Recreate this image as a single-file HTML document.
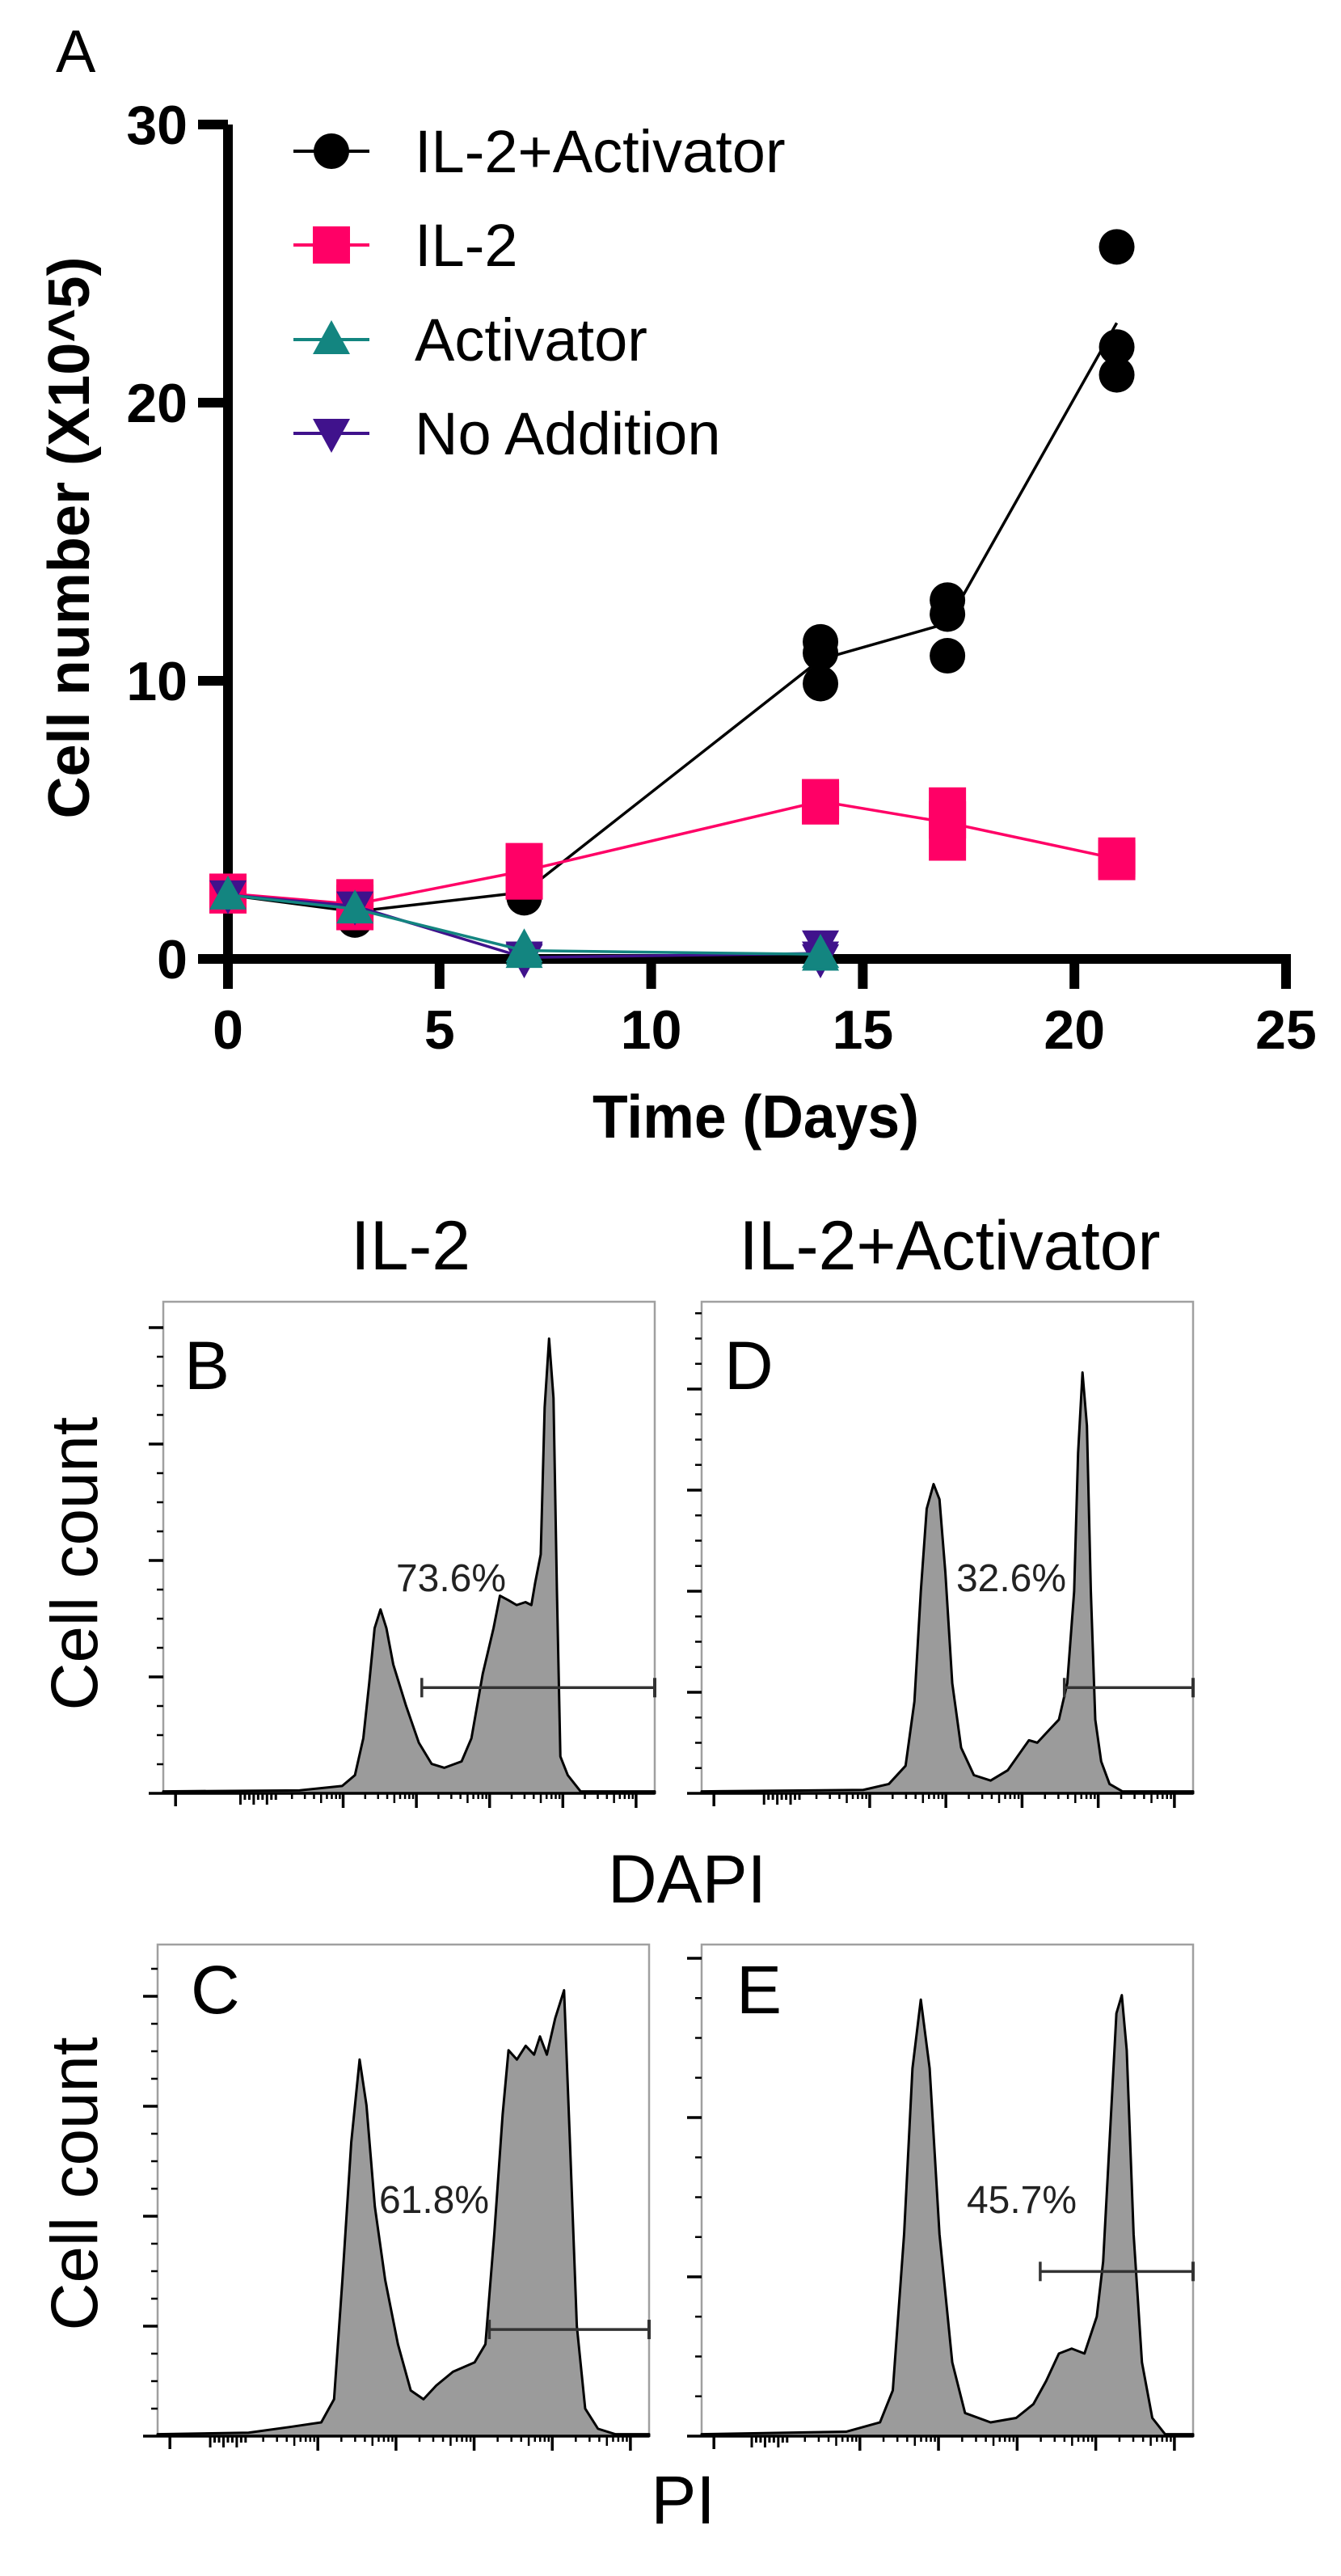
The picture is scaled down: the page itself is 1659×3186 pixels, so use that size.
<!DOCTYPE html>
<html><head><meta charset="utf-8"><title>Cell growth and flow cytometry</title>
<style>
html,body{margin:0;padding:0;background:#fff;}
svg{display:block;font-family:"Liberation Sans",Arial,sans-serif;}
</style></head>
<body>
<svg id="fig" width="1659" height="3186" viewBox="0 0 1659 3186" xmlns="http://www.w3.org/2000/svg">
<rect x="0" y="0" width="1659" height="3186" fill="#fff"/>
</svg>
<script>
// ---------- Panel A data ----------
const daysAll = [0, 3, 7, 14, 17, 21];
const daysShort = [0, 3, 7, 14];
const il2ActReps = [[2.3,2.3,2.3],[1.4,1.8,1.9],[2.2,2.4,2.6],[9.9,11.0,11.4],[10.9,12.4,12.9],[21.0,22.0,25.6]];
const il2Reps = [[2.3,2.35,2.4],[1.7,2.0,2.2],[2.8,3.2,3.5],[5.5,5.7,5.8],[4.2,5.0,5.5],[3.5,3.6,3.7]];
const activatorReps = [[2.3],[1.8],[0.2,0.3,0.4],[0.1,0.2,0.2]];
const noAddReps = [[2.3],[1.9],[0.0,0.05,0.1],[0.0,0.1,0.5]];
const xTickVals = [0, 5, 10, 15, 20, 25];
const yTickVals = [0, 10, 20, 30];
const legendLabels = ["IL-2+Activator", "IL-2", "Activator", "No Addition"];

// ---------- Flow histogram data (x: % of channel range, y: % of max count) ----------
const histBx = [0,27.7,36.4,39.0,40.7,41.9,43.0,44.2,45.4,46.8,49.4,52.0,54.6,57.2,60.7,62.7,65.0,67.2,68.5,70.2,71.9,73.7,74.9,75.7,76.8,77.6,78.5,79.4,80.1,80.8,82.3,84.9,100];
const histBy = [0.4,0.6,1.5,3.7,11.2,22.4,33.6,37.4,33.6,26.2,17.8,10.3,6.0,5.2,6.5,11.2,24.3,33.6,40.2,39.3,38.3,38.9,38.3,43.0,48.6,78.5,92.5,80.4,41.1,7.5,3.7,0.4,0.4];
const histDx = [0,32.9,38.1,41.5,43.3,44.6,45.8,47.2,48.4,49.6,51.0,52.8,55.4,58.8,62.3,64.9,66.6,68.3,70.9,72.7,74.4,75.8,76.6,77.5,78.4,79.2,80.1,81.3,83.0,85.6,100];
const histDy = [0.4,0.7,1.9,5.6,18.7,41.1,57.9,62.9,59.8,44.9,22.4,9.3,3.7,2.6,4.7,8.4,10.8,10.3,13.1,15.0,22.4,41.1,69.2,85.6,74.8,41.1,15.0,6.5,1.9,0.4,0.4];
const histCx = [0,18.5,27.2,33.3,35.9,37.6,39.4,41.1,42.5,44.2,46.3,48.9,51.5,54.1,56.7,60.1,64.5,66.7,68.5,70.2,71.4,73.1,74.9,76.6,77.8,79.2,80.9,82.7,83.9,85.3,87.0,89.6,93.1,100];
const histCy = [0.4,0.7,1.9,2.8,7.5,31.8,59.8,76.6,67.3,46.7,31.8,18.7,9.3,7.5,10.3,13.1,15.0,18.7,41.1,65.4,78.5,76.6,79.4,77.6,81.3,77.6,85.0,90.7,59.8,22.4,5.6,1.5,0.4,0.4];
const histEx = [0,29.4,36.3,38.9,41.2,42.9,44.6,46.4,48.4,51.0,53.6,58.8,64.0,67.5,70.1,72.7,75.3,77.9,80.4,81.7,83.0,84.4,85.5,86.5,87.9,89.6,91.7,94.3,100];
const histEy = [0.4,0.9,2.8,9.3,41.1,74.8,88.8,74.8,41.1,15.0,4.7,2.8,3.7,6.5,11.2,16.8,17.8,16.8,24.3,35.5,59.8,86.0,89.7,78.5,41.1,15.0,3.7,0.4,0.4];
const gateStart = [52.6, 73.8, 67.5, 68.9];
const gateLevel = [21.5, 21.5, 21.7, 33.5];
const pctLabels = ["73.6%", "32.6%", "61.8%", "45.7%"];

const NS = "http://www.w3.org/2000/svg";
const svg = document.getElementById('fig');
function mk(tag, attrs, parent) {
  const e = document.createElementNS(NS, tag);
  for (const k in attrs) e.setAttribute(k, attrs[k]);
  (parent || svg).appendChild(e);
  return e;
}
function mean(a){return a.reduce((s,v)=>s+v,0)/a.length;}

// ---------- Panel A ----------
const X0 = 282, X1 = 1591, Y0 = 1186, Y1 = 154;
const xA = d => X0 + d * (X1 - X0) / 25;
const yA = v => Y0 - v * (Y0 - Y1) / 30;

const gA = mk('g', {});



let t = mk('text', {x: 69, y: 89, 'font-size': 74, fill: '#000'}, gA);
t.textContent = 'A';



let ax = mk('line', {x1: X0, y1: Y1, x2: X0, y2: Y0 + 6, stroke: '#000', 'stroke-width': 12}, gA);


ax = mk('line', {x1: X0 - 6, y1: Y0, x2: X1 + 6, y2: Y0, stroke: '#000', 'stroke-width': 12}, gA);



yTickVals.forEach(v => {
  const tk = mk('line', {x1: 245, y1: yA(v), x2: X0, y2: yA(v), stroke: '#000', 'stroke-width': 12}, gA);
  
  
  const lb = mk('text', {x: 232, y: yA(v) + 24, 'font-size': 68, 'font-weight': 'bold', 'text-anchor': 'end'}, gA);
  lb.textContent = v;
  
  
});
xTickVals.forEach(v => {
  const tk = mk('line', {x1: xA(v), y1: Y0, x2: xA(v), y2: 1223, stroke: '#000', 'stroke-width': 12}, gA);
  
  
  const lb = mk('text', {x: xA(v), y: 1297, 'font-size': 68, 'font-weight': 'bold', 'text-anchor': 'middle'}, gA);
  lb.textContent = v;
  
  
});
t = mk('text', {x: 935, y: 1407, 'font-size': 75, 'font-weight': 'bold', 'text-anchor': 'middle', textLength: 404, lengthAdjust: 'spacingAndGlyphs'}, gA);
t.textContent = 'Time (Days)';


t = mk('text', {x: 0, y: 0, 'font-size': 72, 'font-weight': 'bold', 'text-anchor': 'middle', textLength: 695, lengthAdjust: 'spacingAndGlyphs', transform: 'translate(110,665) rotate(-90)'}, gA);
t.textContent = 'Cell number (X10^5)';



function marker(shape, cx, cy, color, parent) {
  let m;
  if (shape === 'circle') m = mk('circle', {cx: cx, cy: cy, r: 22, fill: color}, parent);
  else if (shape === 'square') m = mk('rect', {x: cx - 23, y: cy - 23, width: 46, height: 46, fill: color}, parent);
  else if (shape === 'up') m = mk('polygon', {points: `${cx},${cy-24} ${cx+23},${cy+18} ${cx-23},${cy+18}`, fill: color}, parent);
  else m = mk('polygon', {points: `${cx},${cy+24} ${cx+23},${cy-18} ${cx-23},${cy-18}`, fill: color}, parent);
  return m;
}

const seriesList = [
  {name: 'il2-activator', days: daysAll, reps: il2ActReps, color: '#000000', shape: 'circle'},
  {name: 'il2', days: daysAll, reps: il2Reps, color: '#ff0066', shape: 'square'},
  {name: 'no-addition', days: daysShort, reps: noAddReps, color: '#40128c', shape: 'down'},
  {name: 'activator', days: daysShort, reps: activatorReps, color: '#138580', shape: 'up'}
];
seriesList.forEach(s => {
  const g = mk('g', {}, gA);
  
  
  const pts = s.days.map((d, i) => xA(d) + ',' + yA(mean(s.reps[i]))).join(' ');
  const ln = mk('polyline', {points: pts, fill: 'none', stroke: s.color, 'stroke-width': 3.5}, g);
  
  
  s.days.forEach((d, i) => {
    s.reps[i].forEach(v => {
      const m = marker(s.shape, xA(d), yA(v), s.color, g);
      
      
    });
  });
});

const legColors = ['#000000', '#ff0066', '#138580', '#40128c'];
const legShapes = ['circle', 'square', 'up', 'down'];
const legY = [187, 303, 420, 536];
const legW = [447, 130, 295, 392];
legendLabels.forEach((lab, i) => {
  const g = mk('g', {}, gA);
  
  
  mk('line', {x1: 363, y1: legY[i], x2: 457, y2: legY[i], stroke: legColors[i], 'stroke-width': 4}, g);
  marker(legShapes[i], 410, legY[i], legColors[i], g);
  const tx = mk('text', {x: 513, y: legY[i] + 26, 'font-size': 74, fill: '#000'}, g);
  tx.textContent = lab;
  
  
});

// ---------- Flow panels ----------
const panels = [
  {id: 'b', letter: 'B', x: 202, y: 1610, w: 608, h: 608, hx: histBx, hy: histBy, ytick: 144, lastMajor: 96.2, dec: 14.9, lx: 228, ly: 1718, px: 558},
  {id: 'd', letter: 'D', x: 868, y: 1610, w: 608, h: 608, hx: histDx, hy: histDy, ytick: 125, lastMajor: 96.2, dec: 15.5, lx: 896, ly: 1718, px: 1251},
  {id: 'c', letter: 'C', x: 195, y: 2405, w: 608, h: 608, hx: histCx, hy: histCy, ytick: 136, lastMajor: 96.2, dec: 15.9, lx: 236, ly: 2490, px: 537},
  {id: 'e', letter: 'E', x: 868, y: 2405, w: 608, h: 608, hx: histEx, hy: histEy, ytick: 197, lastMajor: 96.2, dec: 16.0, lx: 911, ly: 2490, px: 1264}
];
const pctY = [1968, 1968, 2737, 2737];

panels.forEach((p, pi) => {
  const g = mk('g', {});
  
  
  const bx = v => p.x + v / 100 * p.w;
  const by = v => p.y + p.h - v / 100 * p.h;
  mk('rect', {x: p.x, y: p.y, width: p.w, height: p.h, fill: '#fff', stroke: '#a0a0a0', 'stroke-width': 2.5}, g);
  let d = 'M' + bx(p.hx[0]) + ',' + by(0);
  p.hx.forEach((xv, i) => { d += ' L' + bx(xv) + ',' + by(p.hy[i]); });
  d += ' L' + bx(p.hx[p.hx.length - 1]) + ',' + by(0) + ' Z';
  const h = mk('path', {d: d, fill: '#9b9b9b', stroke: '#000', 'stroke-width': 3, 'stroke-linejoin': 'round'}, g);
  
  
  mk('line', {x1: p.x, y1: p.y + p.h, x2: p.x + p.w, y2: p.y + p.h, stroke: '#000', 'stroke-width': 3.5}, g);
  for (let yy = p.y + p.h, k = 0; yy >= p.y + 5; yy -= p.ytick / 4, k++) {
    const major = k % 4 === 0;
    mk('line', {x1: p.x - (major ? 18 : 8), y1: yy, x2: p.x, y2: yy, stroke: '#000', 'stroke-width': major ? 3.5 : 2.5}, g);
  }
  const base = p.y + p.h;
  for (let k = 0; k < 5; k++) {
    const xm = p.lastMajor - k * p.dec;
    mk('line', {x1: bx(xm), y1: base, x2: bx(xm), y2: base + 18, stroke: '#000', 'stroke-width': 3.5}, g);
    for (let m = 2; m <= 9; m++) {
      const xf = xm - p.dec + p.dec * Math.log10(m);
      if (xf > 0) mk('line', {x1: bx(xf), y1: base, x2: bx(xf), y2: base + (m === 5 ? 12 : 7), stroke: '#000', 'stroke-width': 2.5}, g);
    }
  }
  const cl = p.lastMajor - 5 * p.dec;
  for (let k = 0; k < 9; k++) {
    const xf = cl - 6 + k * 0.9;
    mk('line', {x1: bx(xf), y1: base, x2: bx(xf), y2: base + (k % 3 === 0 ? 14 : 8), stroke: '#000', 'stroke-width': 3}, g);
  }
  mk('line', {x1: bx(2.5), y1: base, x2: bx(2.5), y2: base + 16, stroke: '#000', 'stroke-width': 3.5}, g);
  const gy = by(gateLevel[pi]);
  const gate = mk('g', {}, g);
  
  
  mk('line', {x1: bx(gateStart[pi]), y1: gy, x2: p.x + p.w, y2: gy, stroke: '#333', 'stroke-width': 3.5}, gate);
  mk('line', {x1: bx(gateStart[pi]), y1: gy - 12, x2: bx(gateStart[pi]), y2: gy + 12, stroke: '#333', 'stroke-width': 3.5}, gate);
  mk('line', {x1: p.x + p.w, y1: gy - 12, x2: p.x + p.w, y2: gy + 12, stroke: '#333', 'stroke-width': 4}, gate);
  const lt = mk('text', {x: p.lx, y: p.ly, 'font-size': 84, fill: '#000'}, g);
  lt.textContent = p.letter;
  
  
  const pt = mk('text', {x: p.px, y: pctY[pi], 'font-size': 48, 'text-anchor': 'middle', fill: '#222'}, g);
  pt.textContent = pctLabels[pi];
  
  
});

function label(txt, x, y, size, name, extra) {
  const a = Object.assign({x: x, y: y, 'font-size': size, 'text-anchor': 'middle', fill: '#000'}, extra || {});
  const e = mk('text', a);
  e.textContent = txt;
  
  
  return e;
}
label('IL-2', 508, 1570, 86, 'column-title-il2');
label('IL-2+Activator', 1175, 1570, 86, 'column-title-il2-activator', {textLength: 521, lengthAdjust: 'spacingAndGlyphs'});
label('DAPI', 850, 2353, 84, 'x-axis-title-dapi');
label('PI', 845, 3121, 84, 'x-axis-title-pi');
label('Cell count', 0, 0, 82, 'y-axis-title-top', {transform: 'translate(120,1934) rotate(-90)', textLength: 363, lengthAdjust: 'spacingAndGlyphs'});
label('Cell count', 0, 0, 82, 'y-axis-title-bottom', {transform: 'translate(120,2701) rotate(-90)', textLength: 363, lengthAdjust: 'spacingAndGlyphs'});
</script>
</body></html>
